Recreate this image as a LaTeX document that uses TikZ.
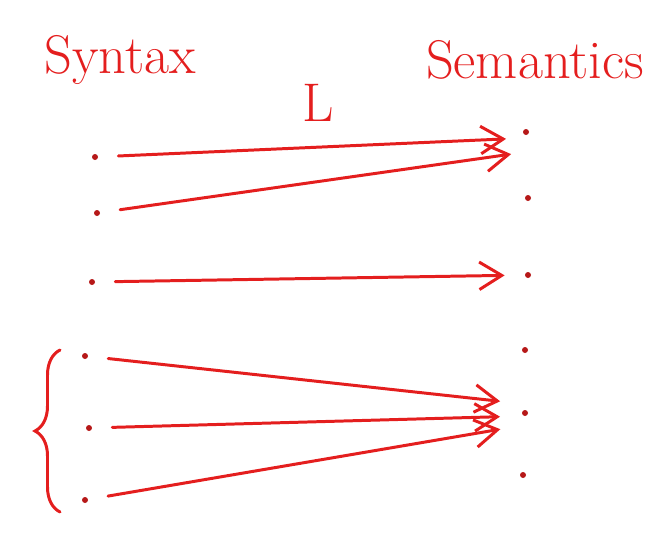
\documentclass[tikz,border=0pt]{standalone}
\usetikzlibrary{arrows.meta,decorations.pathreplacing}
\definecolor{inkred}{RGB}{228,30,30}
\tikzset{
  pt/.style={circle,fill=inkred!80!black,inner sep=0pt,minimum size=1.2mm},
  map/.style={draw=inkred,line width=1.7pt,line cap=round,
    -{Straight Barb[length=4.5mm,width=5.5mm,line width=1.7pt]},shorten <=4mm},
  word/.style={text=inkred,font=\fontsize{31}{35}\selectfont}
}
\begin{document}
\begin{tikzpicture}
			%%%%% START %%%%%
			\useasboundingbox (0,0) rectangle (13.34,-10.82);
			
			\node[word] (syn) at (2.4,-1.2) {Syntax};
			\node[word] (sem) at (10.7,-1.2) {Semantics};
			\node[word] (lang) at (6.36,-2.05) {L};
			
			% syntax side
			\node[pt] (s1) at (1.90,-3.14) {};
			\node[pt] (s2) at (1.94,-4.26) {};
			\node[pt] (s3) at (1.84,-5.64) {};
			\node[pt] (s4) at (1.70,-7.12) {};
			\node[pt] (s5) at (1.78,-8.56) {};
			\node[pt] (s6) at (1.70,-10.00) {};
			
			% semantics side
			\node[pt] (m1) at (10.52,-2.64) {};
			\node[pt] (m2) at (10.56,-3.96) {};
			\node[pt] (m3) at (10.56,-5.50) {};
			\node[pt] (m4) at (10.50,-7.00) {};
			\node[pt] (m5) at (10.50,-8.26) {};
			\node[pt] (m6) at (10.46,-9.50) {};
			
			\draw[map,shorten >=4mm] (s1) -- ([yshift=-1.2mm]m1.center);
			\draw[map,shorten >=3mm] (s2) -- ([yshift=-4mm]m1.center);
			\draw[map,shorten >=4mm] (s3) -- (m3);
			
			\draw[map,shorten >=5mm] (s4) -- ([yshift=1.8mm]m5.center);
			\draw[map,shorten >=5mm] (s5) -- ([yshift=-0.6mm]m5.center);
			\draw[map,shorten >=5mm] (s6) -- ([yshift=-2.4mm]m5.center);
			
			\draw[inkred,line width=1.7pt,line cap=round,
				decorate,decoration={brace,amplitude=5mm}]
				(1.2,-10.24) -- (1.2,-7.0);
			
			%%%%% END %%%%%
\end{tikzpicture}
\end{document}
